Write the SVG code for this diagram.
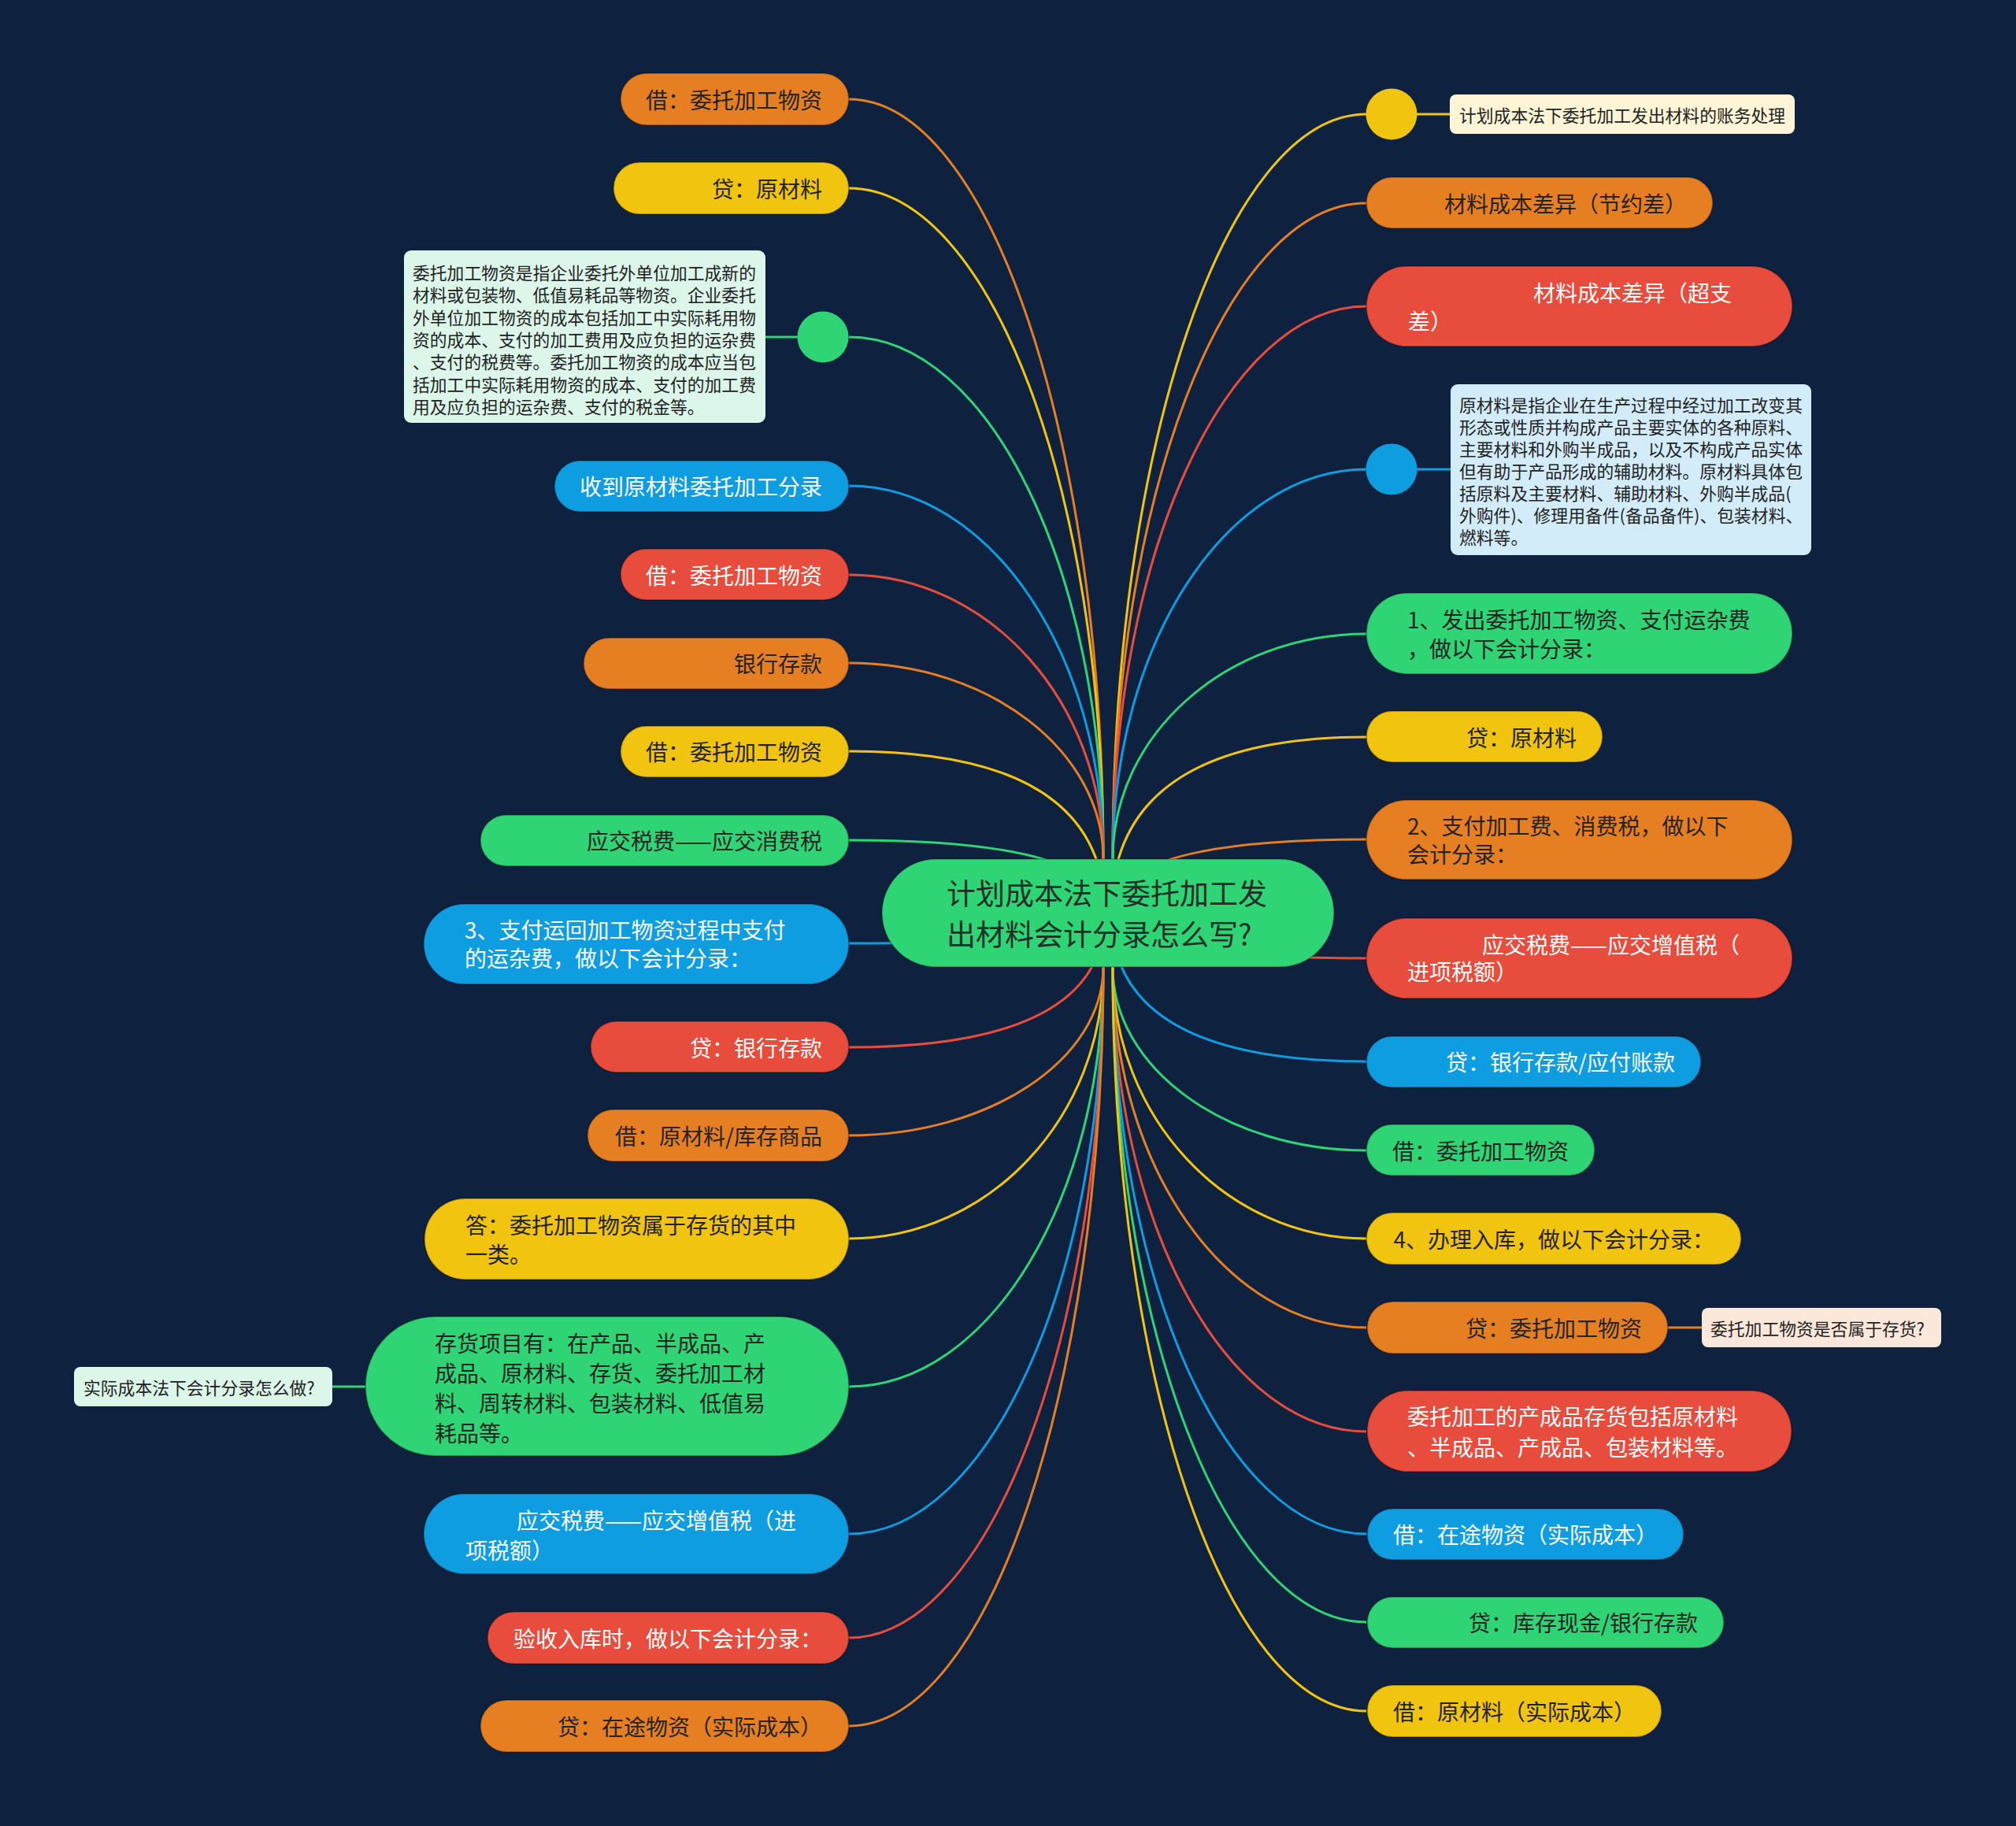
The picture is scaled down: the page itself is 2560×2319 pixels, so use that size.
<svg xmlns="http://www.w3.org/2000/svg" width="2560" height="2319" viewBox="0 0 2560 2319">
<style>
text{font-family:"Noto Sans CJK SC","Noto Sans",sans-serif;dominant-baseline:central}
.t{font-size:28px;fill:#232323}
.tw{font-size:28px;fill:#ffffff}
.nt{font-size:21.8px;fill:#222}
.ct{font-size:37px;fill:#1f2f27}
.o{fill:#e67e22}.y{fill:#f1c40f}.g{fill:#2fd475}.r{fill:#e74c3c}.b{fill:#0e9de0}
.nd{stroke:#000;stroke-opacity:.28;stroke-width:2}
.e{fill:none;stroke-width:3}
.eo{stroke:#e67e22}.ey{stroke:#f1c40f}.eg{stroke:#2fd475}.er{stroke:#e74c3c}.eb{stroke:#0e9de0}
</style>
<rect x="0" y="0" width="2560" height="2319" fill="#0e2240"/>
<g id="connectors">
<path class="e eo" d="M1078,126 C1256,126 1401,558 1401,1091"/>
<path class="e ey" d="M1078,239 C1256,239 1401,620 1401,1091"/>
<path class="e eg" d="M1078,428 C1256,428 1401,725 1401,1091"/>
<path class="e eb" d="M1078,617 C1256,617 1401,829 1401,1091"/>
<path class="e er" d="M1078,730 C1256,730 1401,892 1401,1091"/>
<path class="e eo" d="M1078,842 C1256,842 1401,954 1401,1091"/>
<path class="e ey" d="M1078,954 Q1403,954 1403,1160"/>
<path class="e eg" d="M1078,1067 Q1403,1067 1403,1160"/>
<path class="e eb" d="M1078,1198 Q1403,1198 1403,1160"/>
<path class="e er" d="M1078,1330 Q1403,1330 1403,1160"/>
<path class="e eo" d="M1078,1442 C1256,1442 1401,1346 1401,1228"/>
<path class="e ey" d="M1078,1573 C1256,1573 1401,1419 1401,1228"/>
<path class="e eg" d="M1078,1761 C1256,1761 1401,1522 1401,1228"/>
<path class="e eb" d="M1078,1948 C1256,1948 1401,1626 1401,1228"/>
<path class="e er" d="M1078,2080 C1256,2080 1401,1699 1401,1228"/>
<path class="e eo" d="M1078,2192 C1256,2192 1401,1760 1401,1228"/>
<path class="e ey" d="M1735,145 C1557,145 1413,569 1413,1091"/>
<path class="e eo" d="M1735,258 C1557,258 1413,631 1413,1091"/>
<path class="e er" d="M1735,389 C1557,389 1413,703 1413,1091"/>
<path class="e eb" d="M1735,596 C1557,596 1413,818 1413,1091"/>
<path class="e eg" d="M1735,805 C1557,805 1413,933 1413,1091"/>
<path class="e ey" d="M1735,936 Q1411,936 1411,1160"/>
<path class="e eo" d="M1735,1066 Q1411,1066 1411,1160"/>
<path class="e er" d="M1735,1217 Q1411,1217 1411,1160"/>
<path class="e eb" d="M1735,1348 Q1411,1348 1411,1160"/>
<path class="e eg" d="M1735,1461 C1557,1461 1413,1357 1413,1228"/>
<path class="e ey" d="M1735,1573 C1557,1573 1413,1419 1413,1228"/>
<path class="e eo" d="M1735,1686 C1557,1686 1413,1481 1413,1228"/>
<path class="e er" d="M1735,1818 C1557,1818 1413,1554 1413,1228"/>
<path class="e eb" d="M1735,1948 C1557,1948 1413,1626 1413,1228"/>
<path class="e eg" d="M1735,2060 C1557,2060 1413,1688 1413,1228"/>
<path class="e ey" d="M1735,2173 C1557,2173 1413,1750 1413,1228"/>
<line class="e eg" x1="972" y1="428" x2="1013" y2="428"/>
<line class="e ey" x1="1799" y1="145" x2="1841" y2="145"/>
<line class="e eb" x1="1799" y1="596" x2="1842" y2="596"/>
<line class="e eo" x1="2118" y1="1686" x2="2161" y2="1686"/>
<line class="e eg" x1="422" y1="1761" x2="464" y2="1761"/>
</g>
<g id="center">
<rect class="g" x="1120" y="1091" width="574" height="137" rx="68.5" stroke="#000" stroke-opacity=".2" stroke-width="2"/>
<text class="ct" x="1202" y="1133">计划成本法下委托加工发</text>
<text class="ct" x="1202" y="1185">出材料会计分录怎么写?</text>
</g>
<g id="L1"><rect class="o nd" x="788" y="93" width="290" height="66" rx="33"/><text class="t" x="1044" y="126" text-anchor="end">借：委托加工物资</text></g>
<g id="L2"><rect class="y nd" x="779" y="206" width="299" height="66" rx="33"/><text class="t" x="1044" y="239" text-anchor="end">贷：原材料</text></g>
<g id="L3">
<circle class="g" cx="1045" cy="428" r="32.5"/>
<rect x="513" y="318" width="459" height="219" rx="9" fill="#dcf7e9"/>
<text class="nt" x="524" y="345">委托加工物资是指企业委托外单位加工成新的</text>
<text class="nt" x="524" y="373">材料或包装物、低值易耗品等物资。企业委托</text>
<text class="nt" x="524" y="402">外单位加工物资的成本包括加工中实际耗用物</text>
<text class="nt" x="524" y="430">资的成本、支付的加工费用及应负担的运杂费</text>
<text class="nt" x="524" y="458">、支付的税费等。委托加工物资的成本应当包</text>
<text class="nt" x="524" y="487">括加工中实际耗用物资的成本、支付的加工费</text>
<text class="nt" x="524" y="515">用及应负担的运杂费、支付的税金等。</text>
</g>
<g id="L4"><rect class="b nd" x="704" y="585" width="374" height="65" rx="32.5"/><text class="tw" x="1044" y="617" text-anchor="end">收到原材料委托加工分录</text></g>
<g id="L5"><rect class="r nd" x="788" y="697" width="290" height="65" rx="32.5"/><text class="tw" x="1044" y="730" text-anchor="end">借：委托加工物资</text></g>
<g id="L6"><rect class="o nd" x="741" y="810" width="337" height="65" rx="32.5"/><text class="t" x="1044" y="842" text-anchor="end">银行存款</text></g>
<g id="L7"><rect class="y nd" x="788" y="922" width="290" height="65" rx="32.5"/><text class="t" x="1044" y="954" text-anchor="end">借：委托加工物资</text></g>
<g id="L8"><rect class="g nd" x="610" y="1035" width="468" height="65" rx="32.5"/><text class="t" x="1044" y="1067" text-anchor="end">应交税费——应交消费税</text></g>
<g id="L9"><rect class="b nd" x="538" y="1148" width="540" height="102" rx="51"/><text class="tw" x="590" y="1180">3、支付运回加工物资过程中支付</text><text class="tw" x="590" y="1216">的运杂费，做以下会计分录：</text></g>
<g id="L10"><rect class="r nd" x="750" y="1297" width="328" height="65" rx="32.5"/><text class="tw" x="1044" y="1330" text-anchor="end">贷：银行存款</text></g>
<g id="L11"><rect class="o nd" x="746" y="1409" width="332" height="66" rx="33"/><text class="t" x="1044" y="1442" text-anchor="end">借：原材料/库存商品</text></g>
<g id="L12"><rect class="y nd" x="539" y="1522" width="539" height="103" rx="51.5"/><text class="t" x="591" y="1555">答：委托加工物资属于存货的其中</text><text class="t" x="591" y="1592">一类。</text></g>
<g id="L13">
<rect class="g nd" x="464" y="1672" width="614" height="177" rx="88.5"/>
<text class="t" x="552" y="1705">存货项目有：在产品、半成品、产</text>
<text class="t" x="552" y="1743">成品、原材料、存货、委托加工材</text>
<text class="t" x="552" y="1781">料、周转材料、包装材料、低值易</text>
<text class="t" x="552" y="1819">耗品等。</text>
<rect x="94" y="1736" width="328" height="50" rx="8" fill="#dcf7e9"/>
<text class="nt" x="106" y="1761">实际成本法下会计分录怎么做?</text>
</g>
<g id="L14"><rect class="b nd" x="538" y="1897" width="540" height="102" rx="51"/><text class="tw" x="656" y="1930">应交税费——应交增值税（进</text><text class="tw" x="591" y="1968">项税额）</text></g>
<g id="L15"><rect class="r nd" x="619" y="2047" width="459" height="66" rx="33"/><text class="tw" x="1044" y="2080" text-anchor="end">验收入库时，做以下会计分录：</text></g>
<g id="L16"><rect class="o nd" x="610" y="2159" width="468" height="66" rx="33"/><text class="t" x="1044" y="2192" text-anchor="end">贷：在途物资（实际成本）</text></g>
<g id="R1"><circle class="y" cx="1767" cy="145" r="32.5"/><rect x="1841" y="120" width="438" height="50" rx="8" fill="#fdf5d6"/><text class="nt" x="1853" y="145">计划成本法下委托加工发出材料的账务处理</text></g>
<g id="R2"><rect class="o nd" x="1735" y="225" width="440" height="65" rx="32.5"/><text class="t" x="2142" y="258" text-anchor="end">材料成本差异（节约差）</text></g>
<g id="R3"><rect class="r nd" x="1735" y="338" width="541" height="102" rx="51"/><text class="tw" x="1947" y="371">材料成本差异（超支</text><text class="tw" x="1788" y="407">差）</text></g>
<g id="R4">
<circle class="b" cx="1767" cy="596" r="32.5"/>
<rect x="1842" y="488" width="458" height="217" rx="9" fill="#d3ecf9"/>
<text class="nt" x="1853" y="513">原材料是指企业在生产过程中经过加工改变其</text>
<text class="nt" x="1853" y="541">形态或性质并构成产品主要实体的各种原料、</text>
<text class="nt" x="1853" y="569">主要材料和外购半成品，以及不构成产品实体</text>
<text class="nt" x="1853" y="597">但有助于产品形成的辅助材料。原材料具体包</text>
<text class="nt" x="1853" y="625">括原料及主要材料、辅助材料、外购半成品(</text>
<text class="nt" x="1853" y="653">外购件)、修理用备件(备品备件)、包装材料、</text>
<text class="nt" x="1853" y="681">燃料等。</text>
</g>
<g id="R5"><rect class="g nd" x="1735" y="753" width="541" height="103" rx="51.5"/><text class="t" x="1787" y="786">1、发出委托加工物资、支付运杂费</text><text class="t" x="1787" y="823">，做以下会计分录：</text></g>
<g id="R6"><rect class="y nd" x="1735" y="903" width="300" height="65" rx="32.5"/><text class="t" x="2002" y="936" text-anchor="end">贷：原材料</text></g>
<g id="R7"><rect class="o nd" x="1735" y="1016" width="541" height="101" rx="50.5"/><text class="t" x="1787" y="1048">2、支付加工费、消费税，做以下</text><text class="t" x="1787" y="1084">会计分录：</text></g>
<g id="R8"><rect class="r nd" x="1735" y="1166" width="541" height="102" rx="51"/><text class="tw" x="1882" y="1199">应交税费——应交增值税（</text><text class="tw" x="1787" y="1233">进项税额）</text></g>
<g id="R9"><rect class="b nd" x="1735" y="1316" width="425" height="65" rx="32.5"/><text class="tw" x="2127" y="1348" text-anchor="end">贷：银行存款/应付账款</text></g>
<g id="R10"><rect class="g nd" x="1735" y="1428" width="290" height="65" rx="32.5"/><text class="t" x="1992" y="1461" text-anchor="end">借：委托加工物资</text></g>
<g id="R11"><rect class="y nd" x="1735" y="1540" width="476" height="66" rx="33"/><text class="t" x="2177" y="1573" text-anchor="end">4、办理入库，做以下会计分录：</text></g>
<g id="R12"><rect class="o nd" x="1736" y="1653" width="382" height="66" rx="33"/><text class="t" x="2085" y="1686" text-anchor="end">贷：委托加工物资</text><rect x="2161" y="1661" width="304" height="50" rx="8" fill="#fce8da"/><text class="nt" x="2172" y="1686">委托加工物资是否属于存货?</text></g>
<g id="R13"><rect class="r nd" x="1736" y="1766" width="539" height="103" rx="51.5"/><text class="tw" x="1787" y="1798">委托加工的产成品存货包括原材料</text><text class="tw" x="1787" y="1837">、半成品、产成品、包装材料等。</text></g>
<g id="R14"><rect class="b nd" x="1736" y="1916" width="402" height="65" rx="32.5"/><text class="tw" x="2105" y="1948" text-anchor="end">借：在途物资（实际成本）</text></g>
<g id="R15"><rect class="g nd" x="1736" y="2028" width="453" height="65" rx="32.5"/><text class="t" x="2156" y="2060" text-anchor="end">贷：库存现金/银行存款</text></g>
<g id="R16"><rect class="y nd" x="1736" y="2140" width="374" height="66" rx="33"/><text class="t" x="2077" y="2173" text-anchor="end">借：原材料（实际成本）</text></g>
</svg>
